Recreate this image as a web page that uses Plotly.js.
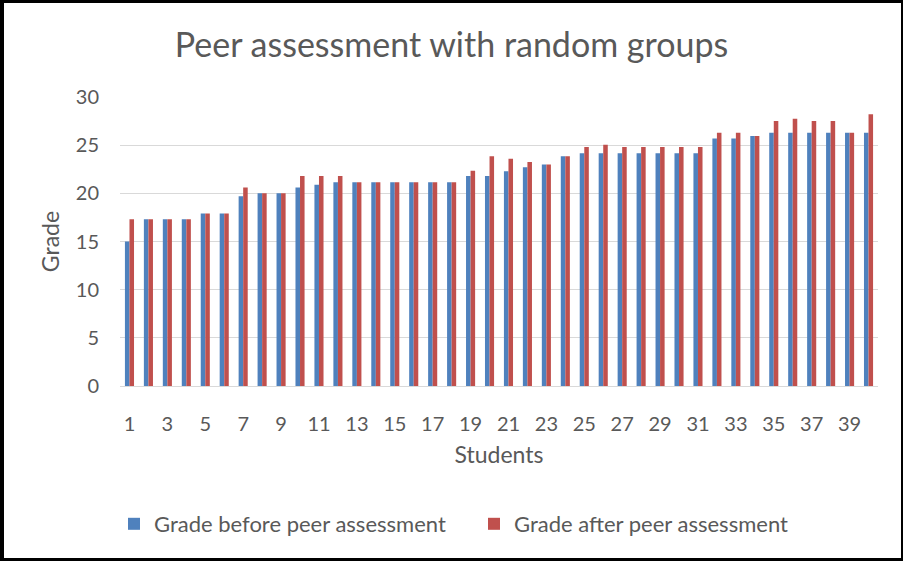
<!DOCTYPE html>
<html>
<head>
<meta charset="utf-8">
<script src="https://cdn.plot.ly/plotly-3.0.1.min.js"></script>
<style>
  html, body { margin: 0; padding: 0; background: #fff; }
  #wrap { position: relative; width: 903px; height: 561px; }
  #chart { position: absolute; left: 0; top: 0; width: 903px; height: 561px; }
  #frame { position: absolute; left: 0; top: 0; width: 903px; height: 561px; box-sizing: border-box;
           border-top: 3px solid #000; border-left: 4px solid #000; border-right: 2px solid #000; border-bottom: 3px solid #000;
           pointer-events: none; }
</style>
</head>
<body>
<div id="wrap">
  <div id="chart"></div>
  <div id="frame"></div>
</div>
<script>
const students = [1,2,3,4,5,6,7,8,9,10,11,12,13,14,15,16,17,18,19,20,21,22,23,24,25,26,27,28,29,30,31,32,33,34,35,36,37,38,39,40];
const gradeBefore = [15.0,17.3,17.3,17.3,17.9,17.9,19.7,20.0,20.0,20.6,20.9,21.15,21.15,21.15,21.15,21.15,21.15,21.15,21.8,21.8,22.3,22.7,23.0,23.85,24.15,24.15,24.15,24.15,24.15,24.15,24.15,25.7,25.7,25.95,26.3,26.3,26.3,26.3,26.3,26.3];
const gradeAfter = [17.3,17.3,17.3,17.3,17.9,17.9,20.6,20.0,20.0,21.8,21.8,21.8,21.15,21.15,21.15,21.15,21.15,21.15,22.35,23.85,23.6,23.25,23.0,23.85,24.8,25.05,24.8,24.8,24.8,24.8,24.8,26.3,26.3,25.95,27.5,27.75,27.5,27.5,26.3,28.2];
const tickValues = [1,3,5,7,9,11,13,15,17,19,21,23,25,27,29,31,33,35,37,39];
const tickLabels = ["1","3","5","7","9","11","13","15","17","19","21","23","25","27","29","31","33","35","37","39"];

const FONT = "Lato, 'Open Sans', sans-serif";
const TXT = "#595959";

const data = [
  { type: "bar", name: "Grade before peer assessment", x: students, y: gradeBefore,
    marker: { color: "#4F81BD" } },
  { type: "bar", name: "Grade after peer assessment", x: students, y: gradeAfter,
    marker: { color: "#C0504D" } }
];

const layout = {
  width: 903, height: 561,
  paper_bgcolor: "#fff", plot_bgcolor: "#fff",
  margin: { l: 120, r: 25, t: 97, b: 175 },
  font: { family: FONT, color: TXT, size: 20 },
  title: { text: "Peer assessment with random groups", font: { family: FONT, size: 34, color: TXT },
           x: 0.5, xanchor: "center", y: 1 - 45/561, yanchor: "middle", yref: "container" },
  barmode: "group", bargap: 0.52, bargroupgap: 0,
  showlegend: true,
  legend: { orientation: "h", x: 0.467, xanchor: "center", y: -0.4775, yanchor: "middle",
            font: { family: FONT, size: 22, color: TXT }, itemwidth: 30, tracegroupgap: 0,
            entrywidth: 315, entrywidthmode: "pixels" },
  xaxis: { range: [0.5, 40.5], tickmode: "array", tickvals: tickValues, ticktext: tickLabels,
           showgrid: false, zeroline: false, showline: true, linecolor: "#d9d9d9", linewidth: 1,
           ticks: "", ticklabelstandoff: 20, tickfont: { size: 20, color: TXT },
           title: { text: "Students", font: { size: 23, color: TXT }, standoff: 12 } },
  yaxis: { range: [0, 30], tickmode: "linear", tick0: 0, dtick: 5,
           showgrid: true, gridcolor: "#d9d9d9", gridwidth: 1, zeroline: false, showline: false,
           ticks: "", ticklabelstandoff: 20, tickfont: { size: 20, color: TXT },
           title: { text: "Grade", font: { size: 23, color: TXT }, standoff: 9 } }
};

Plotly.newPlot("chart", data, layout, { displayModeBar: false, staticPlot: true });
</script>
</body>
</html>
